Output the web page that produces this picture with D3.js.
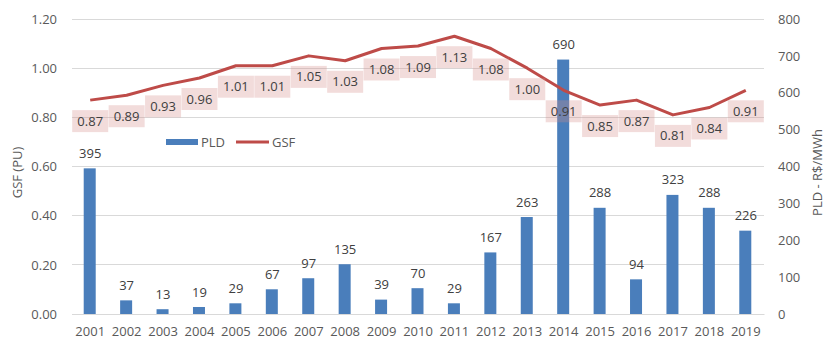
<!DOCTYPE html>
<html><head><meta charset="utf-8">
<script src="https://cdn.jsdelivr.net/npm/d3@7"></script>
<style>body{margin:0;background:#fff;} text{font-family:"Open Sans",sans-serif;}</style>
</head><body>
<svg id="c" width="831" height="361"></svg>
<script>
const years = ["2001","2002","2003","2004","2005","2006","2007","2008","2009","2010","2011","2012","2013","2014","2015","2016","2017","2018","2019"];
const pld = [395,37,13,19,29,67,97,135,39,70,29,167,263,690,288,94,323,288,226];
const gsf = [0.87,0.89,0.93,0.96,1.01,1.01,1.05,1.03,1.08,1.09,1.13,1.08,1.00,0.91,0.85,0.87,0.81,0.84,0.91];
const leftTicks = [0,0.2,0.4,0.6,0.8,1.0,1.2];
const rightTicks = [0,100,200,300,400,500,600,700,800];

const svg = d3.select("#c");
const L = 72, R = 764, T = 19, B = 314;
const x = d3.scaleBand().domain(years).range([L, R]);
const yL = d3.scaleLinear().domain([0, 1.2]).range([B, T]);
const yR = d3.scaleLinear().domain([0, 800]).range([B, T]);

// gridlines
svg.append("g").selectAll("line").data(leftTicks).join("line")
  .attr("x1", L).attr("x2", R).attr("y1", d => yL(d)).attr("y2", d => yL(d))
  .attr("stroke", "#d9d9d9").attr("stroke-width", 1).attr("shape-rendering","crispEdges");

// left axis
const la = svg.append("g").attr("transform", `translate(${L},0)`)
  .call(d3.axisLeft(yL).tickValues(leftTicks).tickFormat(d3.format(".2f")).tickSize(0).tickPadding(15));
la.select(".domain").remove();
la.selectAll("text").attr("fill", "#595959").style("font-size", "13px").style("font-family", "'Open Sans',sans-serif");

// right axis
const ra = svg.append("g").attr("transform", `translate(${R},0)`)
  .call(d3.axisRight(yR).tickValues(rightTicks).tickSize(0).tickPadding(14));
ra.select(".domain").remove();
ra.selectAll("text").attr("fill", "#595959").style("font-size", "13px").style("font-family", "'Open Sans',sans-serif");

// x axis
const xa = svg.append("g").attr("transform", `translate(0,${B})`)
  .call(d3.axisBottom(x).tickSize(0).tickPadding(13));
xa.select(".domain").attr("stroke", "#d9d9d9");
xa.selectAll("text").attr("fill", "#595959").style("font-size", "13px").style("font-family", "'Open Sans',sans-serif");

// axis titles
svg.append("text").attr("transform", `translate(22,${(T+B)/2+6}) rotate(-90)`)
  .attr("text-anchor", "middle").attr("fill", "#595959").style("font-size", "13px").text("GSF (PU)");
svg.append("text").attr("transform", `translate(822,${(T+B)/2+6}) rotate(-90)`)
  .attr("text-anchor", "middle").attr("fill", "#595959").style("font-size", "13px").text("PLD - R$/MWh");

const cx = d => x(d) + x.bandwidth() / 2;

// bars
const bw = 12;
svg.append("g").selectAll("rect").data(years).join("rect")
  .attr("x", d => cx(d) - bw / 2 - 0.5).attr("width", bw)
  .attr("y", (d, i) => yR(pld[i])).attr("height", (d, i) => B - yR(pld[i]))
  .attr("fill", "#4a7ebb");

// line
svg.append("path").datum(years)
  .attr("d", d3.line().x(d => cx(d)).y((d, i) => yL(gsf[i])))
  .attr("fill", "none").attr("stroke", "#be4b48").attr("stroke-width", 3).attr("stroke-linejoin", "round");

// GSF labels (semi-transparent boxes)
const gl = svg.append("g").selectAll("g").data(years).join("g")
  .attr("transform", (d, i) => `translate(${cx(d)},${yL(gsf[i]) + 21})`);
gl.append("rect").attr("x", -18).attr("y", -11).attr("width", 36).attr("height", 22)
  .attr("fill", "rgb(212,138,135)").attr("fill-opacity", 0.3);
gl.append("text").attr("text-anchor", "middle").attr("dy", "0.35em").attr("fill", "#404040")
  .style("font-size", "13px").text((d, i) => d3.format(".2f")(gsf[i]));

// bar labels
svg.append("g").selectAll("text").data(years).join("text")
  .attr("x", d => cx(d)).attr("y", (d, i) => yR(pld[i]) - 15).attr("dy", "0.35em")
  .attr("text-anchor", "middle").attr("fill", "#404040").style("font-size", "13px")
  .text((d, i) => pld[i]);

// legend
const lg = svg.append("g");
lg.append("rect").attr("x", 166).attr("y", 139).attr("width", 32).attr("height", 6).attr("fill", "#4a7ebb");
lg.append("text").attr("x", 201).attr("y", 142).attr("dy", "0.35em").attr("fill", "#595959").style("font-size", "13px").text("PLD");
lg.append("line").attr("x1", 236).attr("x2", 269).attr("y1", 142).attr("y2", 142).attr("stroke", "#be4b48").attr("stroke-width", 3);
lg.append("text").attr("x", 272).attr("y", 142).attr("dy", "0.35em").attr("fill", "#595959").style("font-size", "13px").text("GSF");
</script>
</body></html>
